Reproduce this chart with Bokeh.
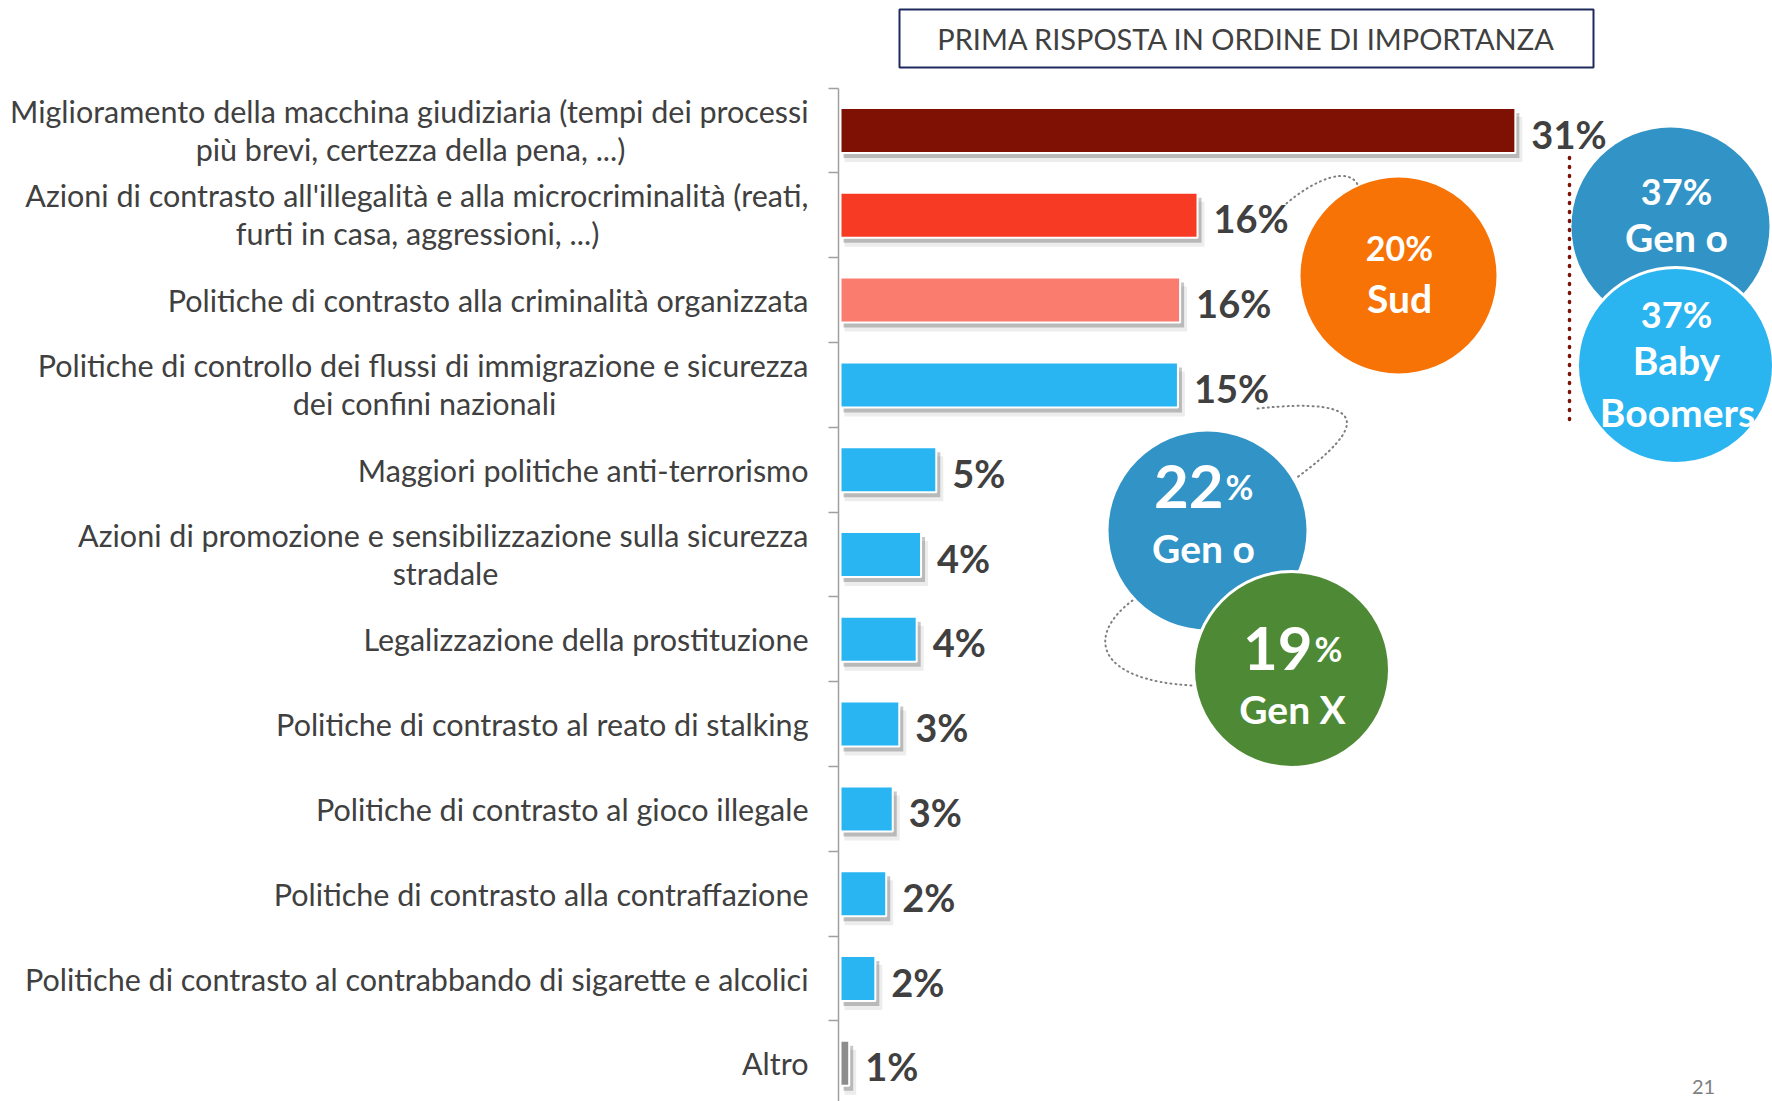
from bokeh.plotting import figure
from bokeh.models import Range1d, LinearAxis, FixedTicker, CustomJSTickFormatter
from bokeh.core.properties import value
from bokeh.embed import file_html
from bokeh.resources import INLINE

# ---------------- data ----------------
categories = [
    "Miglioramento della macchina giudiziaria (tempi dei processi\npiù brevi, certezza della pena, ...)",
    "Azioni di contrasto all'illegalità e alla microcriminalità (reati,\nfurti in casa, aggressioni, ...)",
    "Politiche di contrasto alla criminalità organizzata",
    "Politiche di controllo dei flussi di immigrazione e sicurezza\ndei confini nazionali",
    "Maggiori politiche anti-terrorismo",
    "Azioni di promozione e sensibilizzazione sulla sicurezza\nstradale",
    "Legalizzazione della prostituzione",
    "Politiche di contrasto al reato di stalking",
    "Politiche di contrasto al gioco illegale",
    "Politiche di contrasto alla contraffazione",
    "Politiche di contrasto al contrabbando di sigarette e alcolici",
    "Altro",
]
values = [31.0, 16.4, 15.6, 15.5, 4.4, 3.7, 3.5, 2.7, 2.4, 2.1, 1.6, 0.4]
value_labels = ["31%", "16%", "16%", "15%", "5%", "4%", "4%", "3%", "3%", "2%", "2%", "1%"]
bar_colors = ["#7E1104", "#F73A24", "#F97C6E"] + ["#29B5F2"] * 8 + ["#8C8C8C"]

bubble_pcts = ["20%", "37%", "37%", "22", "19"]
bubble_groups = ["Sud", "Gen o", "Baby\nBoomers", "Gen o", "Gen X"]
bubble_colors = ["#F87306", "#3193C6", "#2AB4F0", "#3193C6", "#4E8A35"]
title_text = "PRIMA RISPOSTA IN ORDINE DI IMPORTANZA"
page_number = "21"

# ---------------- layout (pixels) ----------------
W, H = 1772, 1101
ZERO_PX = 840         # x of value 0
AXIS_PX = 838         # x of the category axis line
PX_X = 21.77          # px per percentage point
ROW0_PX = 130         # y of first row centre
PX_Y = 84.8           # px per row
LABEL_RIGHT = 808     # right edge of the category labels
LINE_GAP = 38         # distance between the two lines of a wrapped label
# centre of the second line of wrapped labels (row index -> px)
LINE2_CX = {0: 410, 1: 417, 3: 424, 5: 445}


def X(px):
    return (px - ZERO_PX) / PX_X


def Y(py):
    return (py - ROW0_PX) / PX_Y


FONT = value("Lato")
DARK = "#404040"

p = figure(width=W, height=H,
           x_range=Range1d(X(0), X(W)), y_range=Range1d(Y(H), Y(0)),
           output_backend="svg", toolbar_location=None,
           x_axis_location=None, y_axis_location=None,
           min_border_left=0, min_border_right=0,
           min_border_top=0, min_border_bottom=0,
           outline_line_color=None,
           background_fill_color="white", border_fill_color="white")
p.grid.visible = False

rows = list(range(len(categories)))
bar_h = 45 / PX_Y

# category axis (line + boundary ticks) fixed at the bars' origin
bounds = [r - 0.5 for r in range(len(rows) + 1)]
ax = LinearAxis(
    fixed_location=X(AXIS_PX),
    ticker=FixedTicker(ticks=bounds),
    formatter=CustomJSTickFormatter(code="return ''"),
    bounds=(bounds[0], bounds[-1]),
    major_tick_out=10, major_tick_in=0,
    minor_tick_out=0, minor_tick_in=0,
    axis_line_color="#A0A0A0", axis_line_width=1.5,
    major_tick_line_color="#A0A0A0", major_tick_line_width=1.5,
)
p.add_layout(ax, "left")

# shadows
p.hbar(y=[r + 9 / PX_Y for r in rows], left=4 / PX_X, right=[v + 7 / PX_X for v in values],
       height=bar_h, fill_color="#000000", fill_alpha=0.07, line_color=None)
p.hbar(y=[r + 5 / PX_Y for r in rows], left=3 / PX_X, right=[v + 4 / PX_X for v in values],
       height=bar_h, fill_color="#000000", fill_alpha=0.22, line_color=None)
# bars
p.hbar(y=rows, left=0, right=values, height=bar_h,
       fill_color=bar_colors, line_color="white", line_width=2)
# value labels
p.text(x=values, y=rows, text=value_labels, x_offset=16, y_offset=3,
       text_font=FONT, text_font_style="bold", text_font_size="38px",
       text_color=DARK, text_baseline="middle", text_align="left")

# category labels (first line right-aligned, second line centred under it)
lx, ly, lt, la, lyo = [], [], [], [], []
for r, cat in zip(rows, categories):
    lines = cat.split("\n")
    if len(lines) == 1:
        lx.append(X(LABEL_RIGHT)); ly.append(r); lt.append(lines[0]); la.append("right"); lyo.append(0)
    else:
        lx.append(X(LABEL_RIGHT)); ly.append(r); lt.append(lines[0]); la.append("right")
        lyo.append(-LINE_GAP / 2 - 1)
        lx.append(X(LINE2_CX[r])); ly.append(r); lt.append(lines[1]); la.append("center")
        lyo.append(LINE_GAP / 2 - 1)
p.text(x=lx, y=ly, text=lt, text_align=la, y_offset=lyo, text_font=FONT,
       text_font_size="30.5px", text_color=DARK, text_baseline="middle")

# title box
p.quad(left=X(899), right=X(1593), top=Y(9), bottom=Y(67),
       fill_color="white", line_color="#1F2A5C", line_width=2)
p.text(x=[X(1246)], y=[Y(38)], text=[title_text], text_font=FONT,
       text_font_size="29px", text_color=DARK, text_align="center", text_baseline="middle")

# dotted connectors
GREY = "#7F7F7F"
p.bezier(x0=[X(1286), X(1257), X(1132)], y0=[Y(203), Y(408), Y(600)],
         x1=[X(1358), X(1295), X(1192)], y1=[Y(186), Y(478), Y(685)],
         cx0=[X(1315), X(1370), X(1085)], cy0=[Y(178), Y(396), Y(635)],
         cx1=[X(1350), X(1368), X(1095)], cy1=[Y(165), Y(425), Y(680)],
         line_color=GREY, line_width=2, line_dash="1 4", line_cap="round")
p.segment(x0=[X(1569)], y0=[Y(157)], x1=[X(1569)], y1=[Y(425)],
          line_color="#7E1104", line_width=3.5, line_dash="1 8", line_cap="round")

# bubbles
bx = [1398, 1670, 1675, 1207, 1291]
by = [275, 226, 365, 530, 669]
br = [98, 99, 98, 99, 98]
p.scatter(x=[X(v) for v in bx], y=[Y(v) for v in by], size=[2 * r for r in br],
          marker="circle", fill_color=bubble_colors, line_color="white",
          line_alpha=[0, 0, 1, 0, 1], line_width=3)

WH = "white"


def btext(px, py, txt, size, align="center", baseline="middle", xo=0):
    p.text(x=[X(px)], y=[Y(py)], text=[txt], x_offset=xo, text_font=FONT,
           text_font_style="bold", text_font_size=size, text_color=WH,
           text_align=align, text_baseline=baseline)


# Sud
btext(1399, 247, bubble_pcts[0], "34px")
btext(1399, 297, bubble_groups[0], "39px")
# 37% Gen o
btext(1676, 190, bubble_pcts[1], "36px")
btext(1676, 236, bubble_groups[1], "39px")
# 37% Baby Boomers
btext(1676, 313, bubble_pcts[2], "36px")
bb = bubble_groups[2].split("\n")
btext(1676, 359, bb[0], "39px")
btext(1677, 411, bb[1], "39px")
# 22% Gen o
btext(1203, 486, bubble_pcts[3], "60px", "right", "alphabetic", 20)
btext(1203, 486, "%", "34px", "left", "alphabetic", 22)
btext(1203, 547, bubble_groups[3], "39px")
# 19% Gen X
btext(1292, 648, bubble_pcts[4], "60px", "right", "alphabetic", 20)
btext(1292, 648, "%", "34px", "left", "alphabetic", 22)
btext(1292, 708, bubble_groups[4], "39px")

# page number
p.text(x=[X(1703)], y=[Y(1086)], text=[page_number], text_font=FONT,
       text_font_size="20px", text_color="#808080", text_align="center", text_baseline="middle")

open("out.html", "w").write(file_html(p, INLINE))
